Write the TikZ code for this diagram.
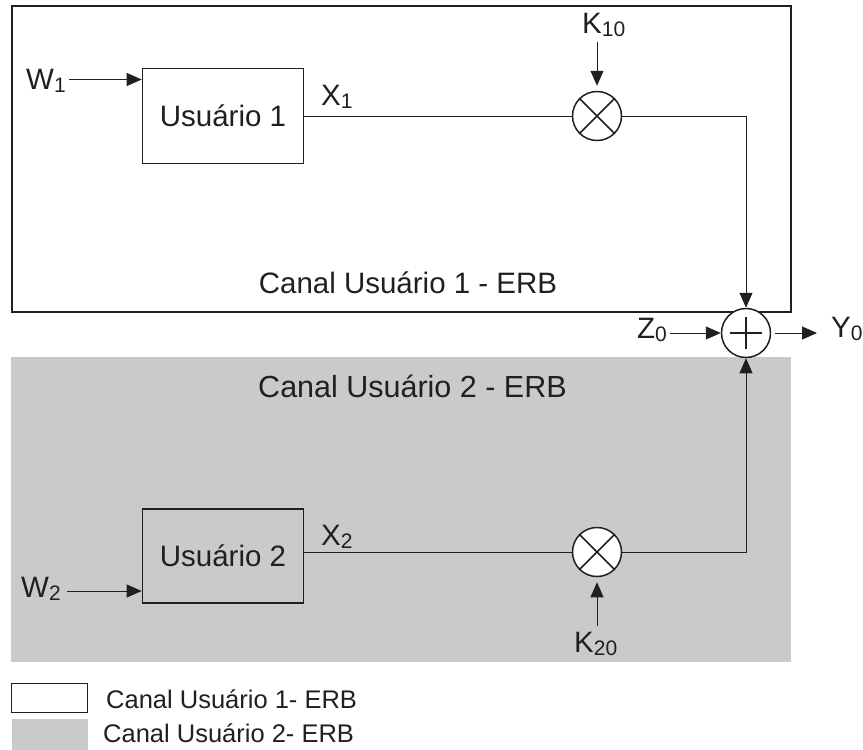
\documentclass[tikz,border=0pt]{standalone}
\usepackage{fontspec}
\setmainfont{Liberation Sans}
\usetikzlibrary{arrows.meta}
\definecolor{ink}{HTML}{231F20}
\definecolor{panel}{HTML}{C9CACC}
\newcommand{\lsub}[1]{\raisebox{-3.5pt}{\fontsize{21}{21}\selectfont #1}}
\begin{document}
\begin{tikzpicture}[x=1pt,y=-1pt,
  lbl/.style={font=\fontsize{29.5}{34}\selectfont, text=ink, inner sep=0pt, anchor=base west},
  blockbox/.style={draw=ink, line width=1.6pt, minimum width=161pt, minimum height=95pt, inner sep=0pt, font=\fontsize{29.5}{34}\selectfont, text=ink},
  mixer/.style={circle, draw=ink, fill=white, line width=1.5pt, minimum size=49pt, inner sep=0pt},
  wire/.style={draw=ink, line width=1pt},
  arr/.style={wire, -{Triangle[length=15pt,width=13pt]}},
  keytext/.style={font=\fontsize{25.5}{30}\selectfont, text=ink, anchor=base west, inner sep=0pt}
]
\useasboundingbox (0,0) rectangle (863,750);

% channel regions
\node[fill=panel, minimum width=780pt, minimum height=305pt, inner sep=0pt] (chan2) at (401,509.5) {};
\node[draw=ink, line width=2pt, minimum width=779pt, minimum height=305.5pt, inner sep=0pt] (chan1) at (401,158.8) {};

\node[lbl, anchor=base] (cap1) at (408,293) {Canal Usuário 1 - ERB};
\node[lbl, anchor=base, font=\fontsize{30.5}{34}\selectfont] (cap2) at (412.5,397) {Canal Usuário 2 - ERB};

% blocks
\node[blockbox] (user1) at (223,116) {Usuário 1};
\node[blockbox, minimum height=94pt] (user2) at (223,556) {Usuário 2};
\node[mixer] (mult1) at (597,116) {};
\node[mixer] (mult2) at (597,552) {};
\node[mixer] (adder) at (746,333) {};
\draw[ink, line width=1.5pt] (mult1.45) -- (mult1.225) (mult1.135) -- (mult1.315);
\draw[ink, line width=1.5pt] (mult2.45) -- (mult2.225) (mult2.135) -- (mult2.315);
\draw[ink, line width=1.5pt] (adder.center) ++(0,-16) -- ++(0,32);
\draw[ink, line width=1.5pt] (adder.center) ++(-16,0) -- ++(32,0);

% labels
\node[lbl] (w1) at (26,89) {W\lsub{1}};
\node[lbl] (k10) at (582,33) {K\lsub{10}};
\node[lbl] (x1) at (321,105) {X\lsub{1}};
\node[lbl] (x2) at (321,545) {X\lsub{2}};
\node[lbl] (z0) at (637,338) {Z\lsub{0}};
\node[lbl] (y0) at (831,337) {Y\lsub{0}};
\node[lbl] (w2) at (21,597) {W\lsub{2}};
\node[lbl] (k20) at (574,652) {K\lsub{20}};

% connector ends
\coordinate (w1tail) at (69,79.5);
\coordinate (w2tail) at (67,591);
\coordinate (k10tail) at (597,42);
\coordinate (k20tail) at (597,626);
\coordinate (ztail) at (670,333);
\coordinate (yhead) at (817,333);

% connectors
\draw[arr] (w1tail) -- (w1tail -| user1.west);
\draw[arr] (w2tail) -- (w2tail -| user2.west);
\draw[wire] (user1.east) -- (mult1.west);
\draw[wire] (user2.east |- mult2.west) -- (mult2.west);
\draw[arr, shorten >=5pt] (k10tail) -- (mult1.north);
\draw[arr, shorten >=5pt] (k20tail) -- (mult2.south);
\draw[arr] (mult1.east) -| (adder.north);
\draw[arr] (mult2.east) -| (adder.south);
\draw[arr] (ztail) -- (adder.west);
\draw[arr, shorten <=4pt] (adder.east) -- (yhead);

% legend
\node[draw=ink, line width=1.5pt, minimum width=76pt, minimum height=29pt, inner sep=0pt] (key1) at (49.7,697.8) {};
\node[fill=panel, minimum width=76pt, minimum height=31pt, inner sep=0pt] (key2) at (49.8,734.7) {};
\node[keytext] (keytext1) at (106,708) {Canal Usuário 1- ERB};
\node[keytext] (keytext2) at (103,742.7) {Canal Usuário 2- ERB};
\end{tikzpicture}
\end{document}
